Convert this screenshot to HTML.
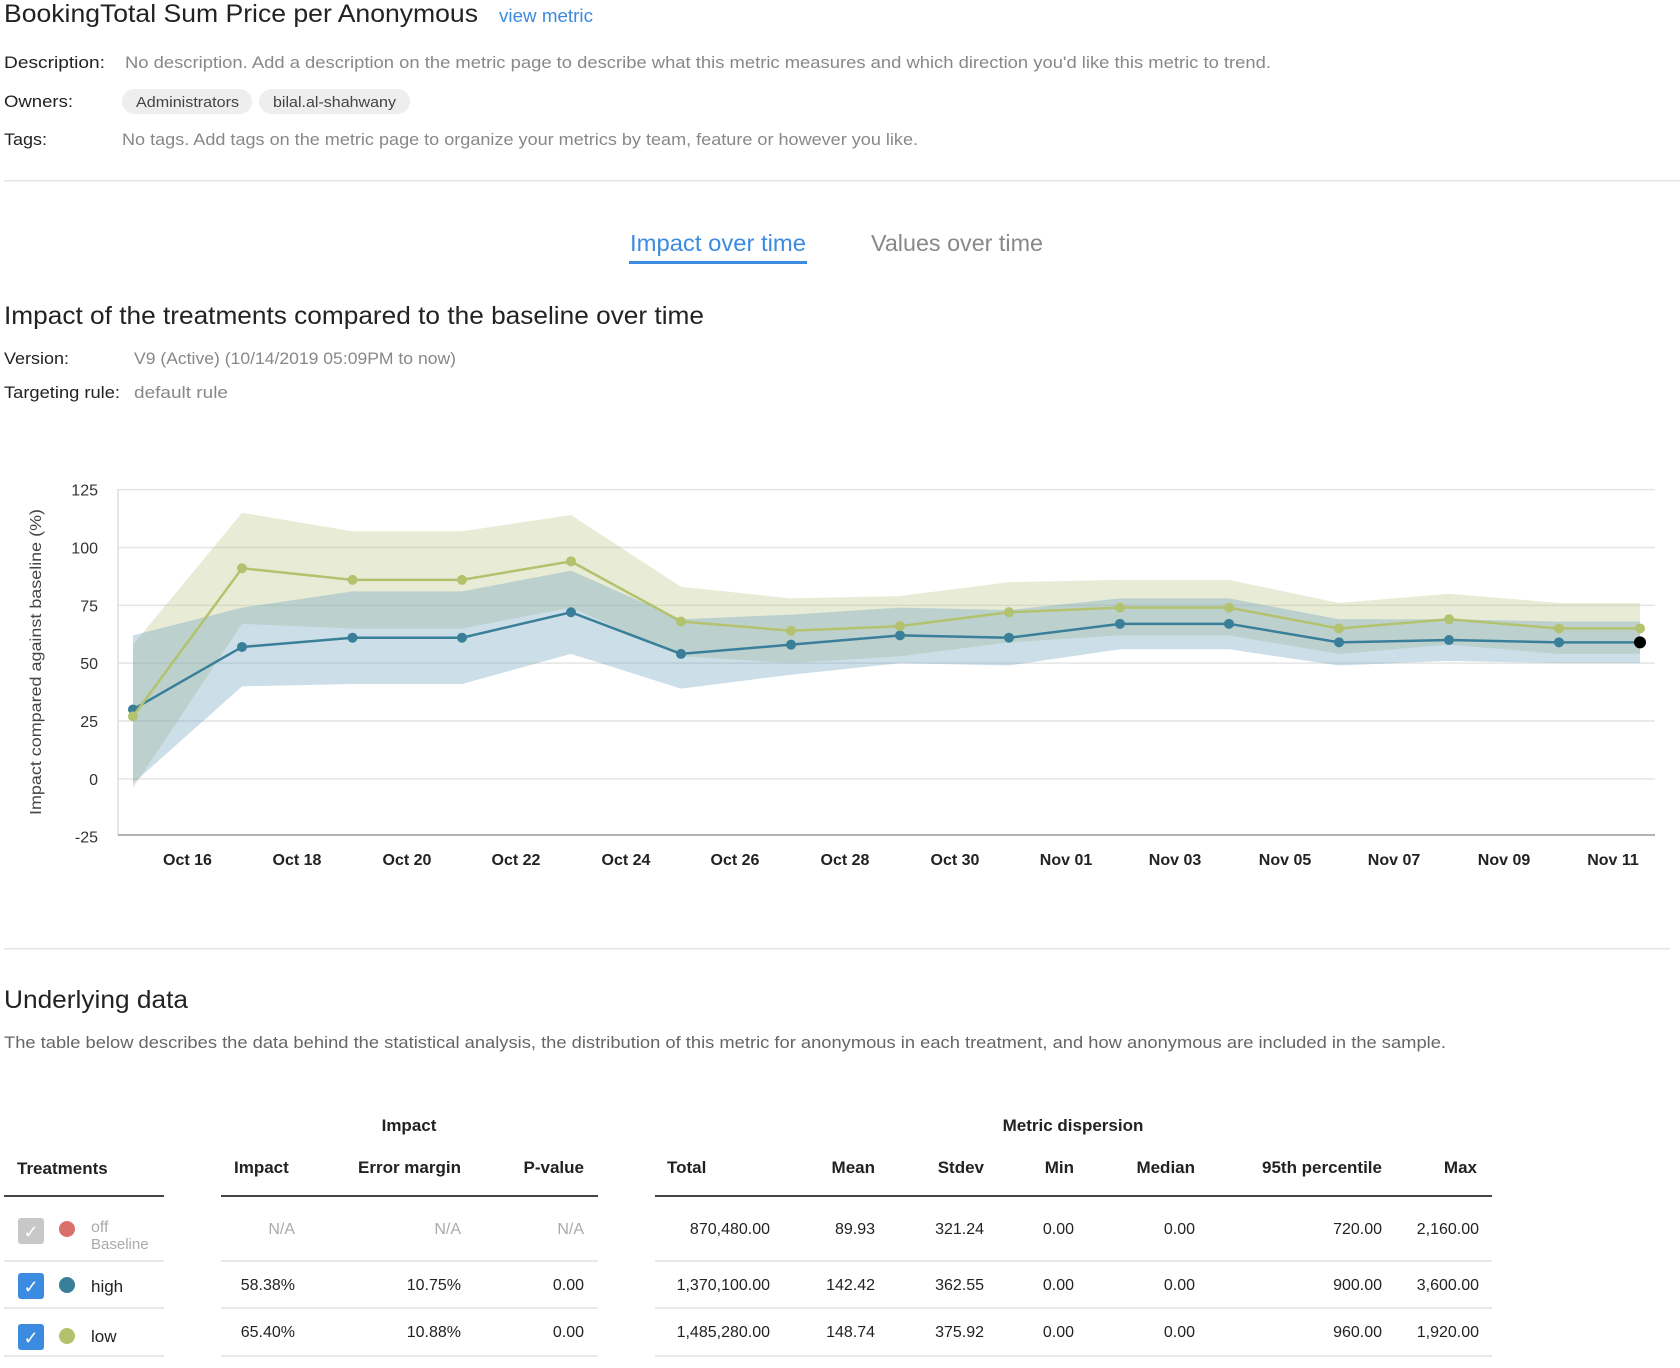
<!DOCTYPE html>
<html><head><meta charset="utf-8"><style>
html,body{margin:0;padding:0;background:#fff;}
svg{display:block;font-family:"Liberation Sans",sans-serif;}
</style></head><body>
<svg id="s" width="1680" height="1368" viewBox="0 0 1680 1368" xmlns="http://www.w3.org/2000/svg">
<g fill="#222">
<text x="4" y="22" font-size="25" textLength="474" lengthAdjust="spacingAndGlyphs">BookingTotal Sum Price per Anonymous</text>
<text x="499" y="22" font-size="18" fill="#3b8be0" textLength="94" lengthAdjust="spacingAndGlyphs">view metric</text>
<text x="4" y="68" font-size="17" textLength="101" lengthAdjust="spacingAndGlyphs">Description:</text>
<text x="125" y="68" font-size="17" fill="#888" textLength="1146" lengthAdjust="spacingAndGlyphs">No description. Add a description on the metric page to describe what this metric measures and which direction you'd like this metric to trend.</text>
<text x="4" y="107" font-size="17" textLength="69" lengthAdjust="spacingAndGlyphs">Owners:</text>
<rect x="122" y="89" width="130" height="25" rx="12.5" fill="#eee"/>
<rect x="259" y="89" width="151" height="25" rx="12.5" fill="#eee"/>
<text x="136" y="107" font-size="15" fill="#444" textLength="103" lengthAdjust="spacingAndGlyphs">Administrators</text>
<text x="273" y="107" font-size="15" fill="#444" textLength="123" lengthAdjust="spacingAndGlyphs">bilal.al-shahwany</text>
<text x="4" y="145" font-size="17" textLength="43" lengthAdjust="spacingAndGlyphs">Tags:</text>
<text x="122" y="145" font-size="17" fill="#888" textLength="796" lengthAdjust="spacingAndGlyphs">No tags. Add tags on the metric page to organize your metrics by team, feature or however you like.</text>
<rect x="4" y="180" width="1676" height="1.5" fill="#e6e6e6"/>
<text x="630" y="251" font-size="23" fill="#3b8be0" textLength="176" lengthAdjust="spacingAndGlyphs">Impact over time</text>
<rect x="629" y="261" width="178" height="3" fill="#3b8be0"/>
<text x="871" y="251" font-size="23" fill="#888" textLength="172" lengthAdjust="spacingAndGlyphs">Values over time</text>
<text x="4" y="324" font-size="25" textLength="700" lengthAdjust="spacingAndGlyphs">Impact of the treatments compared to the baseline over time</text>
<text x="4" y="364" font-size="17" textLength="65" lengthAdjust="spacingAndGlyphs">Version:</text>
<text x="134" y="364" font-size="17" fill="#888" textLength="322" lengthAdjust="spacingAndGlyphs">V9 (Active) (10/14/2019 05:09PM to now)</text>
<text x="4" y="398" font-size="17" textLength="116" lengthAdjust="spacingAndGlyphs">Targeting rule:</text>
<text x="134" y="398" font-size="17" fill="#888" textLength="94" lengthAdjust="spacingAndGlyphs">default rule</text>
</g>
<g id="chart"></g>
<g fill="#222">
<rect x="4" y="948" width="1666" height="1.5" fill="#e6e6e6"/>
<text x="4" y="1008" font-size="25" textLength="184" lengthAdjust="spacingAndGlyphs">Underlying data</text>
<text x="4" y="1048" font-size="17" fill="#666" textLength="1442" lengthAdjust="spacingAndGlyphs">The table below describes the data behind the statistical analysis, the distribution of this metric for anonymous in each treatment, and how anonymous are included in the sample.</text>
<g font-size="17" font-weight="bold">
<text x="409" y="1131" text-anchor="middle">Impact</text>
<text x="1073" y="1131" text-anchor="middle">Metric dispersion</text>
<text x="17" y="1174">Treatments</text>
<text x="234" y="1173">Impact</text>
<text x="461" y="1173" text-anchor="end">Error margin</text>
<text x="584" y="1173" text-anchor="end">P-value</text>
<text x="667" y="1173">Total</text>
<text x="875" y="1173" text-anchor="end">Mean</text>
<text x="984" y="1173" text-anchor="end">Stdev</text>
<text x="1074" y="1173" text-anchor="end">Min</text>
<text x="1195" y="1173" text-anchor="end">Median</text>
<text x="1382" y="1173" text-anchor="end">95th percentile</text>
<text x="1477" y="1173" text-anchor="end">Max</text>
</g>
<rect x="4" y="1195" width="160" height="2" fill="#444"/>
<rect x="221" y="1195" width="377" height="2" fill="#444"/>
<rect x="655" y="1195" width="837" height="2" fill="#444"/>
<g fill="#e8e8e8">
<rect x="4" y="1260" width="160" height="2"/><rect x="221" y="1260" width="377" height="2"/><rect x="655" y="1260" width="837" height="2"/>
<rect x="4" y="1307" width="160" height="2"/><rect x="221" y="1307" width="377" height="2"/><rect x="655" y="1307" width="837" height="2"/>
<rect x="4" y="1355" width="160" height="2"/><rect x="221" y="1355" width="377" height="2"/><rect x="655" y="1355" width="837" height="2"/>
</g>
<rect x="18" y="1218" width="26" height="26" rx="3" fill="#c8c8c8"/>
<text x="31" y="1238" font-size="18" fill="#fff" text-anchor="middle">✓</text>
<circle cx="67" cy="1229" r="8" fill="#d9706b"/>
<text x="91" y="1232" font-size="16" fill="#aaa">off</text>
<text x="91" y="1249" font-size="15" fill="#aaa">Baseline</text>
<rect x="18" y="1273" width="26" height="26" rx="3" fill="#3b8be0"/>
<text x="31" y="1293" font-size="18" fill="#fff" text-anchor="middle">✓</text>
<circle cx="67" cy="1285" r="8" fill="#3a7f9a"/>
<text x="91" y="1292" font-size="17">high</text>
<rect x="18" y="1324" width="26" height="26" rx="3" fill="#3b8be0"/>
<text x="31" y="1344" font-size="18" fill="#fff" text-anchor="middle">✓</text>
<circle cx="67" cy="1336" r="8" fill="#b3c26e"/>
<text x="91" y="1342" font-size="17">low</text>
<g font-size="16" text-anchor="end">
<g fill="#aaa"><text x="295" y="1234">N/A</text><text x="461" y="1234">N/A</text><text x="584" y="1234">N/A</text></g>
<text x="770" y="1234">870,480.00</text><text x="875" y="1234">89.93</text><text x="984" y="1234">321.24</text><text x="1074" y="1234">0.00</text><text x="1195" y="1234">0.00</text><text x="1382" y="1234">720.00</text><text x="1479" y="1234">2,160.00</text>
<text x="295" y="1290">58.38%</text><text x="461" y="1290">10.75%</text><text x="584" y="1290">0.00</text>
<text x="770" y="1290">1,370,100.00</text><text x="875" y="1290">142.42</text><text x="984" y="1290">362.55</text><text x="1074" y="1290">0.00</text><text x="1195" y="1290">0.00</text><text x="1382" y="1290">900.00</text><text x="1479" y="1290">3,600.00</text>
<text x="295" y="1337">65.40%</text><text x="461" y="1337">10.88%</text><text x="584" y="1337">0.00</text>
<text x="770" y="1337">1,485,280.00</text><text x="875" y="1337">148.74</text><text x="984" y="1337">375.92</text><text x="1074" y="1337">0.00</text><text x="1195" y="1337">0.00</text><text x="1382" y="1337">960.00</text><text x="1479" y="1337">1,920.00</text>
</g>
</g>
</svg>
<script>
(function(){
var g=document.getElementById('chart');
function Y(v){return 489.6+(125-v)*2.3143;}
var X=[133,242,352.5,462,571,681,791,900,1009,1120,1229,1339,1449,1559,1640];
var hi=[30,57,61,61,72,54,58,62,61,67,67,59,60,59,59];
var lo=[27,91,86,86,94,68,64,66,72,74,74,65,69,65,65];
var hh=[32,17,20,20,18,15,13,12,12,11,11,10,9,9,9];
var lh=[31,24,21,21,20,15,14,13,13,12,12,11,11,11,11];
var h='';
for(var v=125;v>=-25;v-=25){var y=Y(v);
 if(v>-25)h+='<line x1="118" x2="1655" y1="'+y+'" y2="'+y+'" stroke="#e4e4e4" stroke-width="1.5"/>';
 h+='<text x="98" y="'+(y+6)+'" font-size="16" fill="#333" text-anchor="end">'+v+'</text>';}
h+='<line x1="118" x2="118" y1="489" y2="835" stroke="#ddd" stroke-width="1.5"/>';
h+='<line x1="118" x2="1655" y1="835" y2="835" stroke="#999" stroke-width="1.5"/>';
function band(c,w,f){var p='',q='';for(var i=0;i<X.length;i++){p+=(i?'L':'M')+X[i]+','+Y(c[i]+w[i]);}
 for(var i=X.length-1;i>=0;i--){p+='L'+X[i]+','+Y(c[i]-w[i]);}return '<path d="'+p+'Z" fill="'+f+'"/>';}
h+=band(lo,lh,'rgba(190,200,140,0.35)');
h+=band(hi,hh,'rgba(100,155,185,0.33)');
function line(c,col){var p='';for(var i=0;i<X.length;i++)p+=(i?'L':'M')+X[i]+','+Y(c[i]);
 var s='<path d="'+p+'" fill="none" stroke="'+col+'" stroke-width="2.5"/>';
 for(var i=0;i<X.length;i++)s+='<circle cx="'+X[i]+'" cy="'+Y(c[i])+'" r="5" fill="'+col+'"/>';return s;}
h+=line(hi,'#3a7f9a');h+=line(lo,'#b3c26e');
h+='<circle cx="1640" cy="'+Y(59)+'" r="6" fill="#000"/>';
var L=['Oct 16','Oct 18','Oct 20','Oct 22','Oct 24','Oct 26','Oct 28','Oct 30','Nov 01','Nov 03','Nov 05','Nov 07','Nov 09','Nov 11'];
var LX=[187.5,297,407,516,626,735,845,955,1066,1175,1285,1394,1504,1613];
for(var i=0;i<L.length;i++)h+='<text x="'+LX[i]+'" y="865" font-size="16" font-weight="bold" fill="#222" text-anchor="middle">'+L[i]+'</text>';
h+='<text transform="translate(41,662) rotate(-90)" font-size="16" fill="#444" text-anchor="middle" textLength="306" lengthAdjust="spacingAndGlyphs">Impact compared against baseline (%)</text>';
g.innerHTML=h;
})();
</script>
</body></html>
